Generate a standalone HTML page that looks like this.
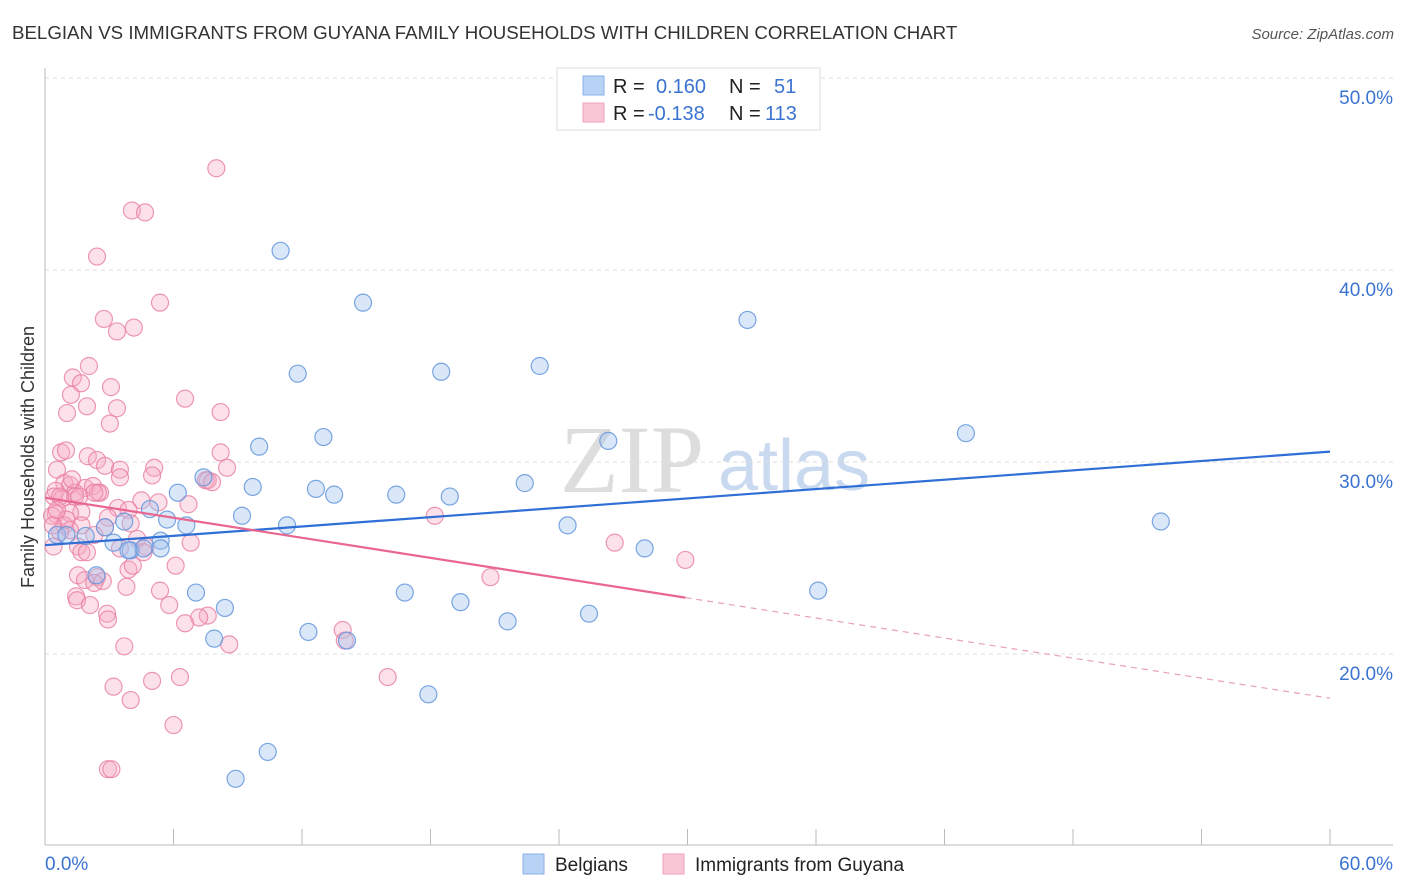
<!DOCTYPE html>
<html><head><meta charset="utf-8"><style>
body{margin:0;background:#fff;font-family:"Liberation Sans",sans-serif;}
svg{display:block}
</style></head><body>
<svg id="chart" width="1406" height="892">
<text x="12" y="39" font-size="18.7" fill="#333">BELGIAN VS IMMIGRANTS FROM GUYANA FAMILY HOUSEHOLDS WITH CHILDREN CORRELATION CHART</text>
<text x="1394" y="39" font-size="15" fill="#555" font-style="italic" text-anchor="end">Source: ZipAtlas.com</text>
<text x="560" y="492" font-size="96" fill="#ddd" font-family="Liberation Serif">ZIP</text>
<text x="718" y="490" font-size="72" fill="#c9d9ef">atlas</text>
<g id="grid"></g><g id="axes"></g><g id="marks"></g><g id="lines"></g>
<text transform="translate(34,457) rotate(-90)" font-size="18" fill="#333" text-anchor="middle">Family Households with Children</text>
<g>
<rect x="557" y="68" width="263" height="62" fill="#fff" stroke="#ddd"/>
<rect x="583" y="76" width="21" height="19" fill="#b8d2f5" stroke="#8ab0e6"/>
<rect x="583" y="103" width="21" height="19" fill="#f9c6d6" stroke="#eea2bb"/>
<text x="613" y="93" font-size="20" fill="#222">R = <tspan fill="#3b73d1" x="656">0.160</tspan><tspan fill="#222" x="729">N =</tspan><tspan fill="#3b73d1" x="774">51</tspan></text>
<text x="613" y="120" font-size="20" fill="#222">R = <tspan fill="#3b73d1" x="648">-0.138</tspan><tspan fill="#222" x="729">N =</tspan><tspan fill="#3b73d1" x="765">113</tspan></text>
</g>
<g>
<rect x="523" y="854" width="21" height="20" fill="#b8d2f5" stroke="#8ab0e6"/>
<text x="555" y="871" font-size="19" fill="#222">Belgians</text>
<rect x="663" y="854" width="21" height="20" fill="#f9c6d6" stroke="#eea2bb"/>
<text x="695" y="871" font-size="19" fill="#222">Immigrants from Guyana</text>
</g>
</svg>
<script>
const yTicks=[20,30,40,50];
const yTickLabels=["20.0%","30.0%","40.0%","50.0%"];
const xTicks=[0,6,12,18,24,30,36,42,48,54,60];
const xEndLabels=["0.0%","60.0%"];
const blueX=[11.0,14.85,32.8,11.8,18.5,23.1,43.0,26.3,13.0,10.0,7.4,9.7,12.65,13.5,16.4,18.9,22.4,6.2,9.2,4.9,3.7,5.7,6.6,11.3,2.8,24.4,52.1,0.56,1.9,3.2,5.4,4.0,4.6,28.0,2.4,7.05,8.4,16.8,19.4,25.4,36.1,21.6,12.3,7.9,14.1,17.9,10.4,8.9,1.0,3.9,5.4];
const blueY=[41.0,38.3,37.4,34.6,34.7,35.0,31.5,31.1,31.3,30.8,29.2,28.7,28.6,28.3,28.3,28.2,28.9,28.4,27.2,27.55,26.9,27.0,26.7,26.7,26.6,26.7,26.9,26.2,26.15,25.8,25.9,25.4,25.5,25.5,24.1,23.2,22.4,23.2,22.7,22.1,23.3,21.7,21.15,20.8,20.7,17.9,14.9,13.5,26.2,25.4,25.5];
const pinkX=[8.0,4.06,4.67,2.43,5.37,2.75,4.15,3.36,2.05,1.3,1.68,3.08,1.21,6.54,1.96,3.36,1.03,8.2,3.03,0.75,0.98,2.0,2.43,8.2,2.8,5.1,3.5,0.56,8.5,5.0,3.5,7.5,0.9,1.17,1.87,2.24,2.57,7.6,0.5,1.4,0.42,0.8,1.4,2.47,4.5,5.3,6.7,3.4,3.9,1.7,0.5,1.17,0.33,2.94,4.0,0.9,1.7,2.8,1.17,0.7,2.3,4.3,6.8,0.4,1.54,4.7,1.7,3.5,4.6,1.96,3.9,4.1,6.1,1.54,2.43,1.87,2.7,2.3,3.8,5.37,1.45,1.5,2.1,5.8,2.9,2.94,7.6,7.2,6.54,13.9,3.7,8.6,14.0,6.3,5.0,3.2,4.0,6.0,16.0,2.94,3.1,18.2,26.6,29.9,20.8,7.8,2.3,0.7,1.0,0.37,0.56,1.6,1.26];
const pinkY=[45.3,43.1,43.0,40.7,38.3,37.45,37.0,36.8,35.0,34.4,34.1,33.9,33.5,33.3,32.9,32.8,32.55,32.6,32.0,30.5,30.6,30.3,30.1,30.5,29.8,29.7,29.6,29.6,29.7,29.3,29.2,29.05,28.9,28.8,28.65,28.75,28.4,29.05,28.5,28.4,28.2,28.1,28.2,28.4,28.0,27.9,27.8,27.6,27.5,27.4,27.3,27.35,27.2,27.1,26.8,26.7,26.7,26.6,26.45,26.35,26.2,26.0,25.8,25.6,25.6,25.6,25.3,25.5,25.3,25.3,24.4,24.6,24.6,24.1,24.0,23.85,23.8,23.7,23.5,23.3,23.0,22.8,22.55,22.55,22.1,21.8,22.0,21.9,21.6,21.25,20.4,20.5,20.7,18.8,18.6,18.3,17.6,16.3,18.8,14.0,14.0,27.2,25.8,24.9,24.0,28.95,28.4,28.2,27.0,26.7,27.5,28.2,29.1];

const NS="http://www.w3.org/2000/svg";
const X0=45,X1=1330,Y50=78,Y20=654;
const sx=v=>X0+(v/60)*(X1-X0);
const sy=v=>Y20-(v-20)*(Y20-Y50)/30;
function mk(tag,attrs,parent){const e=document.createElementNS(NS,tag);for(const k in attrs)e.setAttribute(k,attrs[k]);parent.appendChild(e);return e;}
const grid=document.getElementById('grid'),axes=document.getElementById('axes'),marks=document.getElementById('marks'),lines=document.getElementById('lines');
yTicks.forEach((t,i)=>{
  const l=mk('line',{x1:X0,x2:1393,y1:sy(t),y2:sy(t),stroke:'#ddd','stroke-dasharray':'4,4'},grid);
  
  
  const tx=mk('text',{x:1393,y:sy(t)+26,'font-size':19,fill:'#3b73d1','text-anchor':'end'},grid);
  tx.textContent=yTickLabels[i];
  
  
});
let a=mk('line',{x1:X0,x2:X0,y1:68,y2:845,stroke:'#bbb'},axes);


a=mk('line',{x1:X0,x2:1393,y1:845,y2:845,stroke:'#bbb'},axes);


xTicks.forEach(t=>{
  const l=mk('line',{x1:sx(t),x2:sx(t),y1:829,y2:845,stroke:'#bbb'},axes);
  
  
});
[[0,'start'],[60,'end']].forEach((p,i)=>{
  const tx=mk('text',{x:i?1393:45,y:870,'font-size':19,fill:'#3b73d1','text-anchor':p[1]},axes);
  tx.textContent=xEndLabels[i];
  
  
});
function dots(xs,ys,fill,stroke,name){
  xs.forEach((x,i)=>{
    const c=mk('circle',{cx:sx(x),cy:sy(ys[i]),r:8.5,fill:fill,stroke:stroke,'stroke-width':1.2},marks);
    
    
  });
}
dots(pinkX,pinkY,'rgba(246,168,194,0.35)','rgba(232,126,160,0.8)','guyana-point');
dots(blueX,blueY,'rgba(160,196,240,0.4)','rgba(100,150,220,0.85)','belgian-point');
function reg(xs,ys){const n=xs.length;let mx=0,my=0;for(let i=0;i<n;i++){mx+=xs[i];my+=ys[i];}mx/=n;my/=n;let sxy=0,sxx=0;for(let i=0;i<n;i++){sxy+=(xs[i]-mx)*(ys[i]-my);sxx+=(xs[i]-mx)**2;}const b=sxy/sxx;return [my-b*mx,b];}
const [ba,bb]=reg(blueX,blueY);
let ln=mk('line',{x1:sx(0),y1:sy(ba),x2:sx(60),y2:sy(ba+bb*60),stroke:'#2f6fd6','stroke-width':2.2},lines);


const [pa,pb]=reg(pinkX,pinkY);
const pmax=Math.max(...pinkX);
ln=mk('line',{x1:sx(0),y1:sy(pa),x2:sx(pmax),y2:sy(pa+pb*pmax),stroke:'#e8668f','stroke-width':2.2},lines);


ln=mk('line',{x1:sx(pmax),y1:sy(pa+pb*pmax),x2:sx(60),y2:sy(pa+pb*60),stroke:'#e8a0b8','stroke-width':1.2,'stroke-dasharray':'6,5'},lines);


</script>
</body></html>
